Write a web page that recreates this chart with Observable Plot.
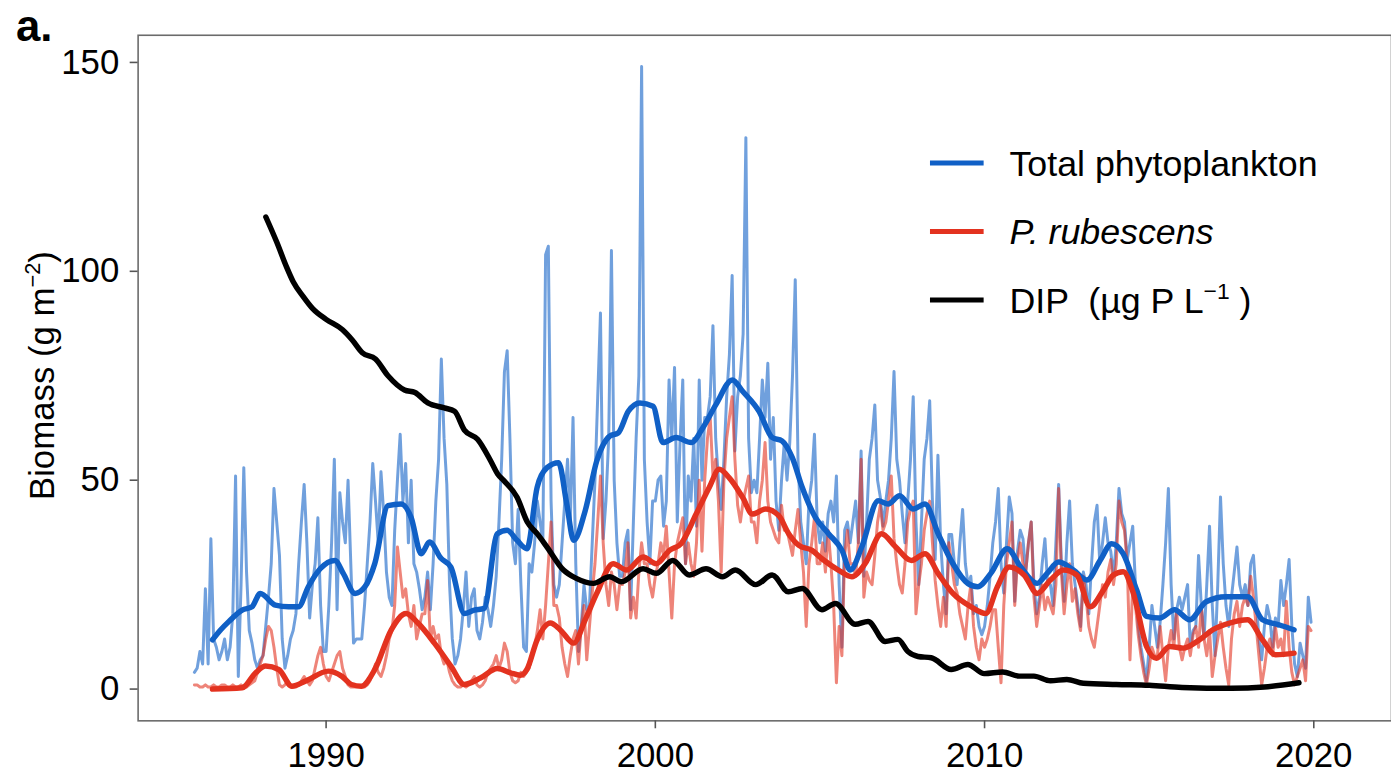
<!DOCTYPE html>
<html>
<head>
<meta charset="utf-8">
<script src="https://cdn.jsdelivr.net/npm/d3@7"></script>
<script src="https://cdn.jsdelivr.net/npm/@observablehq/plot@0.6"></script>
<style>
  html, body { margin: 0; padding: 0; background: #fff; overflow: hidden; }
  #chart { position: relative; width: 1391px; height: 781px; overflow: hidden; }
</style>
</head>
<body>
<div id="chart"></div>
<script>
// Axis ticks and legend labels
const xTicks = [1990, 2000, 2010, 2020];
const yTicks = [0, 50, 100, 150];
const legendLabels = ["Total phytoplankton", "P. rubescens", "DIP"];

// Monthly biomass (g m^-2), January 1986 to December 2019, one row per year
const rawStartYear = 1986;
const totalRaw = [
  4, 5, 9, 6, 24, 6, 36, 12, 10, 7, 9, 12,
  7, 10, 18, 51, 3, 25, 53, 28, 14, 11, 7, 5,
  7, 8, 15, 22, 30, 48, 40, 32, 12, 5, 8, 12,
  14, 18, 30, 40, 49, 35, 17, 25, 30, 41, 20, 9,
  9, 20, 35, 55, 19, 47, 40, 35, 50, 30, 11, 12,
  12, 12, 20, 30, 40, 54, 45, 35, 52, 42, 28, 22,
  20, 38, 50, 61, 45, 54, 35, 50, 30, 28, 24, 19,
  22, 28, 19, 30, 45, 55, 79, 60, 49, 25, 12, 6,
  8, 12, 19, 28, 15, 22, 24, 14, 12, 16, 22, 19,
  15, 20, 27, 40, 55, 76, 81, 60, 35, 30, 43, 25,
  10, 9, 30, 28, 35, 45, 40, 35, 104, 106, 45, 25,
  22, 25, 35, 45, 55, 40, 65, 30, 9, 15, 25, 19,
  20, 35, 50, 70, 90, 36, 45, 60, 105, 50, 35, 27,
  27, 35, 38, 19, 40, 60, 75, 149, 55, 40, 30, 45,
  45, 50, 51, 39, 45, 74, 60, 77, 40, 59, 74, 30,
  51, 45, 60, 39, 74, 50, 65, 65, 70, 87, 60, 50,
  43, 55, 70, 80, 99, 57, 70, 75, 85, 132, 60, 47,
  50, 47, 60, 74, 65, 78, 55, 65, 45, 38, 50, 59,
  50, 59, 75, 98, 55, 40, 35, 30, 45, 50, 61, 40,
  35, 40, 33, 42, 45, 40, 51, 25, 10, 38, 40, 35,
  40, 45, 35, 57, 27, 40, 55, 60, 68, 50, 46, 39,
  45, 50, 60, 76, 55, 50, 42, 35, 45, 55, 70, 40,
  25, 40, 55, 60, 69, 45, 31, 56, 35, 25, 18, 37,
  37, 30, 25, 35, 43, 30, 25, 27, 18, 20, 15, 13,
  15, 20, 27, 35, 40, 48, 30, 23, 35, 46, 42, 21,
  33, 38, 36, 28, 35, 40, 25, 18, 22, 30, 36, 25,
  25, 20, 35, 49, 30, 21, 35, 45, 30, 25, 20, 15,
  28, 25, 18, 30, 40, 44, 30, 35, 41, 35, 33, 27,
  35, 48, 42, 40, 31, 35, 39, 25, 15, 10, 6, 2,
  10, 20, 15, 10, 16, 25, 35, 48, 25, 12, 19, 22,
  19, 22, 25, 10, 14, 15, 32, 20, 12, 25, 39, 20,
  8, 25, 46, 30, 20, 15, 22, 28, 34, 25, 22, 25,
  20, 30, 32, 22, 12, 7, 15, 20, 17, 10, 17, 15,
  26, 20, 25, 31, 15, 6, 3, 11, 8, 5, 22, 16
];
const rubescensRaw = [
  1, 1, 0.5, 0.5, 1, 0.5, 0.5, 1, 0.5, 0.5, 1, 1,
  0.5, 0.5, 1, 0.5, 0.5, 1, 0.5, 0.5, 1, 1.5, 2, 4,
  6, 8, 12, 15, 14, 10, 5, 1, 0.5, 1, 2, 1,
  0.5, 0.5, 1, 2, 3, 2, 1, 2, 5, 8, 10, 6,
  3, 2, 4, 6, 8, 9, 5, 3, 1, 0.5, 0.5, 0.5,
  0.5, 0.5, 0.5, 1, 2, 4, 6, 4, 3, 5, 8, 12,
  14, 20, 34, 28, 22, 24, 18, 15, 20, 12, 15, 18,
  18, 26, 12, 15, 12, 13, 8, 6, 7, 4, 2, 1,
  0.5, 0.5, 1, 0.5, 1, 2, 3, 1, 0.5, 1, 2, 4,
  5, 6, 8, 5, 7, 11, 9, 4, 2, 1.5, 2, 4,
  3, 4, 5, 8, 10, 14, 19, 12, 20, 30, 40, 20,
  20, 17, 10, 6, 3, 8, 12, 14, 6, 15, 20, 7,
  15, 23, 30, 40, 51, 35, 25, 20, 28, 25, 19, 25,
  25, 28, 35, 17, 22, 17, 28, 35, 30, 30, 25, 22,
  27, 30, 35, 32, 39, 28, 17, 30, 35, 38, 41, 30,
  35, 30, 27, 35, 50, 33, 50, 60, 65, 51, 55, 45,
  28, 50, 60, 65, 70, 55, 44, 40, 45, 48, 51, 40,
  40, 35, 45, 50, 59, 45, 40, 38, 36, 35, 44, 38,
  38, 35, 32, 38, 43, 35, 28, 15, 30, 35, 41, 30,
  30, 35, 28, 38, 30, 20, 1.5, 15, 8, 32, 38, 30,
  30, 27, 35, 55, 22, 28, 26, 25, 32, 40, 44, 38,
  40, 45, 51, 36, 30, 25, 23, 30, 40, 43, 45, 18,
  25, 30, 38, 42, 45, 35, 26, 20, 15, 22, 15, 35,
  30, 25, 23, 18, 15, 12, 20, 25, 15, 10, 7, 12,
  10, 12, 15, 19, 19, 10, 1.5, 20, 30, 35, 40, 20,
  31, 35, 30, 28, 35, 40, 22, 15, 20, 25, 19, 22,
  20, 18, 25, 48, 28, 18, 25, 30, 21, 24, 18, 14,
  27, 22, 15, 12, 10, 15, 20, 25, 22, 28, 31, 25,
  30, 45, 40, 38, 30, 7, 25, 20, 13, 8, 4, 1,
  5, 10, 8, 8, 15, 8, 2, 10, 14, 10, 19, 10,
  7, 10, 12, 8, 13, 15, 10, 20, 12, 8, 14, 3,
  8, 12, 16, 10, 5, 1, 12, 18, 21, 15, 20, 22,
  20, 27, 22, 15, 8, 1, 5, 10, 12, 8, 15, 10,
  12, 8, 21, 10, 4, 1, 3, 5, 7, 2, 15, 14
];

// Running-mean trend of total phytoplankton
const trendTotalYears = [1986.55, 1986.8, 1987.05, 1987.45, 1987.75, 1988.0, 1988.46, 1988.86, 1989.16, 1989.46, 1989.82, 1990.27, 1990.52, 1990.88, 1991.18, 1991.48, 1991.88, 1992.28, 1992.58, 1992.89, 1993.14, 1993.49, 1993.79, 1994.2, 1994.5, 1994.8, 1995.2, 1995.5, 1995.8, 1996.1, 1996.41, 1996.71, 1997.06, 1997.31, 1997.52, 1997.87, 1998.22, 1998.62, 1998.87, 1999.18, 1999.53, 1999.93, 2000.23, 2000.63, 2001.09, 2001.44, 2001.84, 2002.34, 2002.65, 2003.15, 2003.55, 2003.85, 2004.16, 2004.46, 2004.86, 2005.26, 2005.67, 2005.92, 2006.27, 2006.77, 2007.07, 2007.42, 2007.83, 2008.19, 2008.59, 2009.04, 2009.49, 2009.79, 2010.19, 2010.69, 2011.1, 2011.6, 2011.9, 2012.25, 2012.7, 2013.11, 2013.51, 2013.86, 2014.21, 2014.62, 2014.92, 2015.32, 2015.77, 2016.23, 2016.73, 2017.33, 2017.99, 2018.44, 2018.94, 2019.4];
const trendTotalValues = [11.8, 14.2, 16.2, 18.9, 19.7, 22.9, 20.1, 19.7, 19.7, 24.5, 28.8, 30.8, 27.7, 22.9, 24.5, 30.1, 43.9, 44.3, 41.1, 32.4, 35.2, 31.3, 29.2, 18.1, 18.9, 19.3, 37.2, 38, 35.6, 33.6, 48.3, 53, 54.2, 44.3, 35.6, 42.7, 54.6, 60.6, 61.3, 66.5, 68.5, 67.7, 59, 60.2, 59, 62.5, 68.1, 74, 71.3, 66.5, 60.2, 59.4, 55.4, 48.3, 41.1, 37.2, 33.2, 28.5, 34, 45.1, 44.3, 46.3, 43.1, 44.3, 37.2, 30, 25.3, 24.5, 27.7, 33.6, 29.2, 25.3, 27.7, 30.4, 28.5, 26.1, 30.8, 34.8, 32.4, 23.7, 17.4, 17, 19, 16.6, 20.9, 22.1, 22.1, 16.6, 15.4, 14.2];

// Running-mean trend of P. rubescens
const trendRubYears = [1986.55, 1987.45, 1987.86, 1988.16, 1988.56, 1988.96, 1989.37, 1990.07, 1990.47, 1990.77, 1991.07, 1991.48, 1991.98, 1992.43, 1992.79, 1993.29, 1993.79, 1994.2, 1994.7, 1995.2, 1995.6, 1995.9, 1996.1, 1996.41, 1996.81, 1997.11, 1997.52, 1997.87, 1998.22, 1998.72, 1999.13, 1999.63, 2000.03, 2000.43, 2000.78, 2001.24, 2001.64, 2001.94, 2002.24, 2002.65, 2002.95, 2003.35, 2003.75, 2004.05, 2004.36, 2004.76, 2005.06, 2005.56, 2005.97, 2006.37, 2006.87, 2007.28, 2007.78, 2008.19, 2008.59, 2009.04, 2009.59, 2010.04, 2010.39, 2010.75, 2011.2, 2011.6, 2012.0, 2012.4, 2012.8, 2013.21, 2013.61, 2013.91, 2014.21, 2014.52, 2014.92, 2015.22, 2015.62, 2016.03, 2016.53, 2016.93, 2017.44, 2017.99, 2018.44, 2018.84, 2019.4];
const trendRubValues = [0, 0.3, 3.9, 5.5, 4.7, 0.7, 1.9, 4.3, 3.1, 1.1, 0.7, 4.7, 14.2, 18.1, 15.8, 11, 5.5, 1.1, 2.7, 4.9, 3.9, 3.3, 4.7, 11.8, 15.8, 14.2, 11, 16.6, 22.9, 30, 28.5, 31.6, 30, 33.2, 34.8, 41.9, 48.3, 52.6, 50.6, 45.9, 41.9, 43.1, 41.5, 37.2, 34.4, 33.2, 31.2, 28.5, 26.9, 30, 37.2, 34.2, 30.8, 32.4, 27.7, 22.9, 19.7, 18.1, 24.5, 29.2, 27.3, 22.9, 26.1, 28.5, 27.3, 19.7, 23.7, 27.3, 28.1, 22.9, 10.2, 7.4, 10.2, 9.8, 11.8, 14.2, 15.8, 16.6, 11.8, 8.2, 8.6];

// Dissolved inorganic phosphorus (µg P L^-1)
const dipYears = [1988.17, 1988.5, 1988.8, 1989.0, 1989.3, 1989.6, 1990.0, 1990.5, 1990.8, 1991.1, 1991.5, 1991.88, 1992.38, 1992.7, 1993.09, 1993.59, 1993.9, 1994.2, 1994.6, 1995.0, 1995.21, 1995.4, 1995.8, 1996.11, 1996.41, 1996.71, 1997.21, 1997.6, 1998.12, 1998.61, 1998.97, 1999.63, 2000.03, 2000.53, 2001.03, 2001.54, 2002.04, 2002.43, 2003.05, 2003.55, 2004.04, 2004.46, 2005.06, 2005.47, 2006.07, 2006.46, 2006.98, 2007.37, 2007.67, 2007.98, 2008.38, 2008.99, 2009.49, 2009.99, 2010.55, 2011.05, 2011.5, 2012.0, 2012.5, 2013.0, 2014.0, 2015.0, 2016.0, 2017.5, 2018.5, 2019.55];
const dipValues = [113, 107, 101, 97.5, 94, 91, 88.5, 86, 83.5, 80.5, 79, 75, 71.6, 71, 68.5, 67.3, 66.5, 62, 59.8, 54.6, 51.5, 49.9, 45.9, 40, 37.2, 34, 28.5, 26.5, 25.3, 26.9, 25.7, 28.8, 27.7, 30.8, 27.3, 28.8, 26.9, 28.5, 25.0, 27.3, 23.3, 24.1, 19.0, 20.5, 15.5, 16.2, 11.4, 11.9, 9, 7.8, 7.5, 4.7, 5.9, 3.7, 4.1, 3.1, 3.1, 2.0, 2.3, 1.4, 1.1, 0.9, 0.4, 0.2, 0.5, 1.5];

const FONT = "'Liberation Sans', Arial, Helvetica, sans-serif";
const blue = "#1060c6";
const red = "#e3321f";
const seriesColors = [blue, red, "#000000"];

const monthly = (values) => values.map((v, i) => ({year: rawStartYear + i / 12, value: v}));
const paired = (years, values) => years.map((t, i) => ({year: t, value: values[i]}));

const svg = Plot.plot({
  width: 1400,
  height: 781,
  marginTop: 35,
  marginLeft: 138.5,
  marginRight: 0,
  marginBottom: 56,
  style: {fontFamily: FONT, background: "white", color: "black", overflow: "visible"},
  x: {domain: [1984.29, 2022.36]},
  y: {domain: [-7.6, 156.5]},
  marks: [
    Plot.frame({stroke: "#6b6b6b", strokeWidth: 1.6}),
    Plot.axisX({ticks: xTicks, tickFormat: (d) => String(d), tickSize: 8, tickPadding: 14,
      fontSize: 35, stroke: "#555", strokeWidth: 1.6, fill: "black", label: null}),
    Plot.axisY({ticks: yTicks, tickFormat: (d) => String(d), tickSize: 8, tickPadding: 11,
      fontSize: 35, stroke: "#555", strokeWidth: 1.6, fill: "black", label: null}),
    Plot.line(monthly(totalRaw), {x: "year", y: "value", stroke: blue, strokeOpacity: 0.6,
      strokeWidth: 3, strokeLinejoin: "round"}),
    Plot.line(monthly(rubescensRaw), {x: "year", y: "value", stroke: red, strokeOpacity: 0.6,
      strokeWidth: 3, strokeLinejoin: "round"}),
    Plot.line(paired(trendTotalYears, trendTotalValues), {x: "year", y: "value", stroke: blue,
      strokeWidth: 5.5, curve: "monotone-x", strokeLinejoin: "round"}),
    Plot.line(paired(trendRubYears, trendRubValues), {x: "year", y: "value", stroke: red,
      strokeWidth: 5.5, curve: "monotone-x", strokeLinejoin: "round"}),
    Plot.line(paired(dipYears, dipValues), {x: "year", y: "value", stroke: "black",
      strokeWidth: 5.5, curve: "monotone-x", strokeLinejoin: "round"})
  ]
});

const root = d3.select(svg);

// Panel letter
root.append("text")
  .attr("x", 16).attr("y", 41)
  .attr("text-anchor", "start")
  .attr("font-size", 44).attr("font-weight", "bold")
  .attr("font-family", FONT)
  .text("a.");

// Y axis title with superscript unit
const yTitle = root.append("text")
  .attr("transform", "translate(54,378) rotate(-90)")
  .attr("text-anchor", "middle")
  .attr("font-size", 35)
  .attr("font-family", FONT);
yTitle.append("tspan").text("Biomass (g m");
yTitle.append("tspan").attr("font-size", 22).attr("dy", -14).text("\u22122");
yTitle.append("tspan").attr("dy", 14).text(")");

// Legend
const legendRows = [164, 233, 302];
const legend = root.append("g").attr("font-family", FONT).attr("font-size", 36)
  .attr("text-anchor", "start");
legendLabels.forEach((label, i) => {
  const y = legendRows[i];
  legend.append("line")
    .attr("x1", 936).attr("x2", 990).attr("y1", y).attr("y2", y)
    .attr("stroke", seriesColors[i]).attr("stroke-width", 5);
  const t = legend.append("text")
    .attr("x", 1016).attr("y", y + 13)
    .attr("text-anchor", "start")
    .style("white-space", "pre");
  if (i === 1) {
    t.attr("font-style", "italic").text(label);
  } else if (i === 2) {
    t.append("tspan").text(label + "  (\u00b5g P L");
    t.append("tspan").attr("font-size", 23).attr("dy", -14).text("\u22121");
    t.append("tspan").attr("dy", 14).text(" )");
  } else {
    t.text(label);
  }
});

document.getElementById("chart").appendChild(svg);
</script>
</body>
</html>
